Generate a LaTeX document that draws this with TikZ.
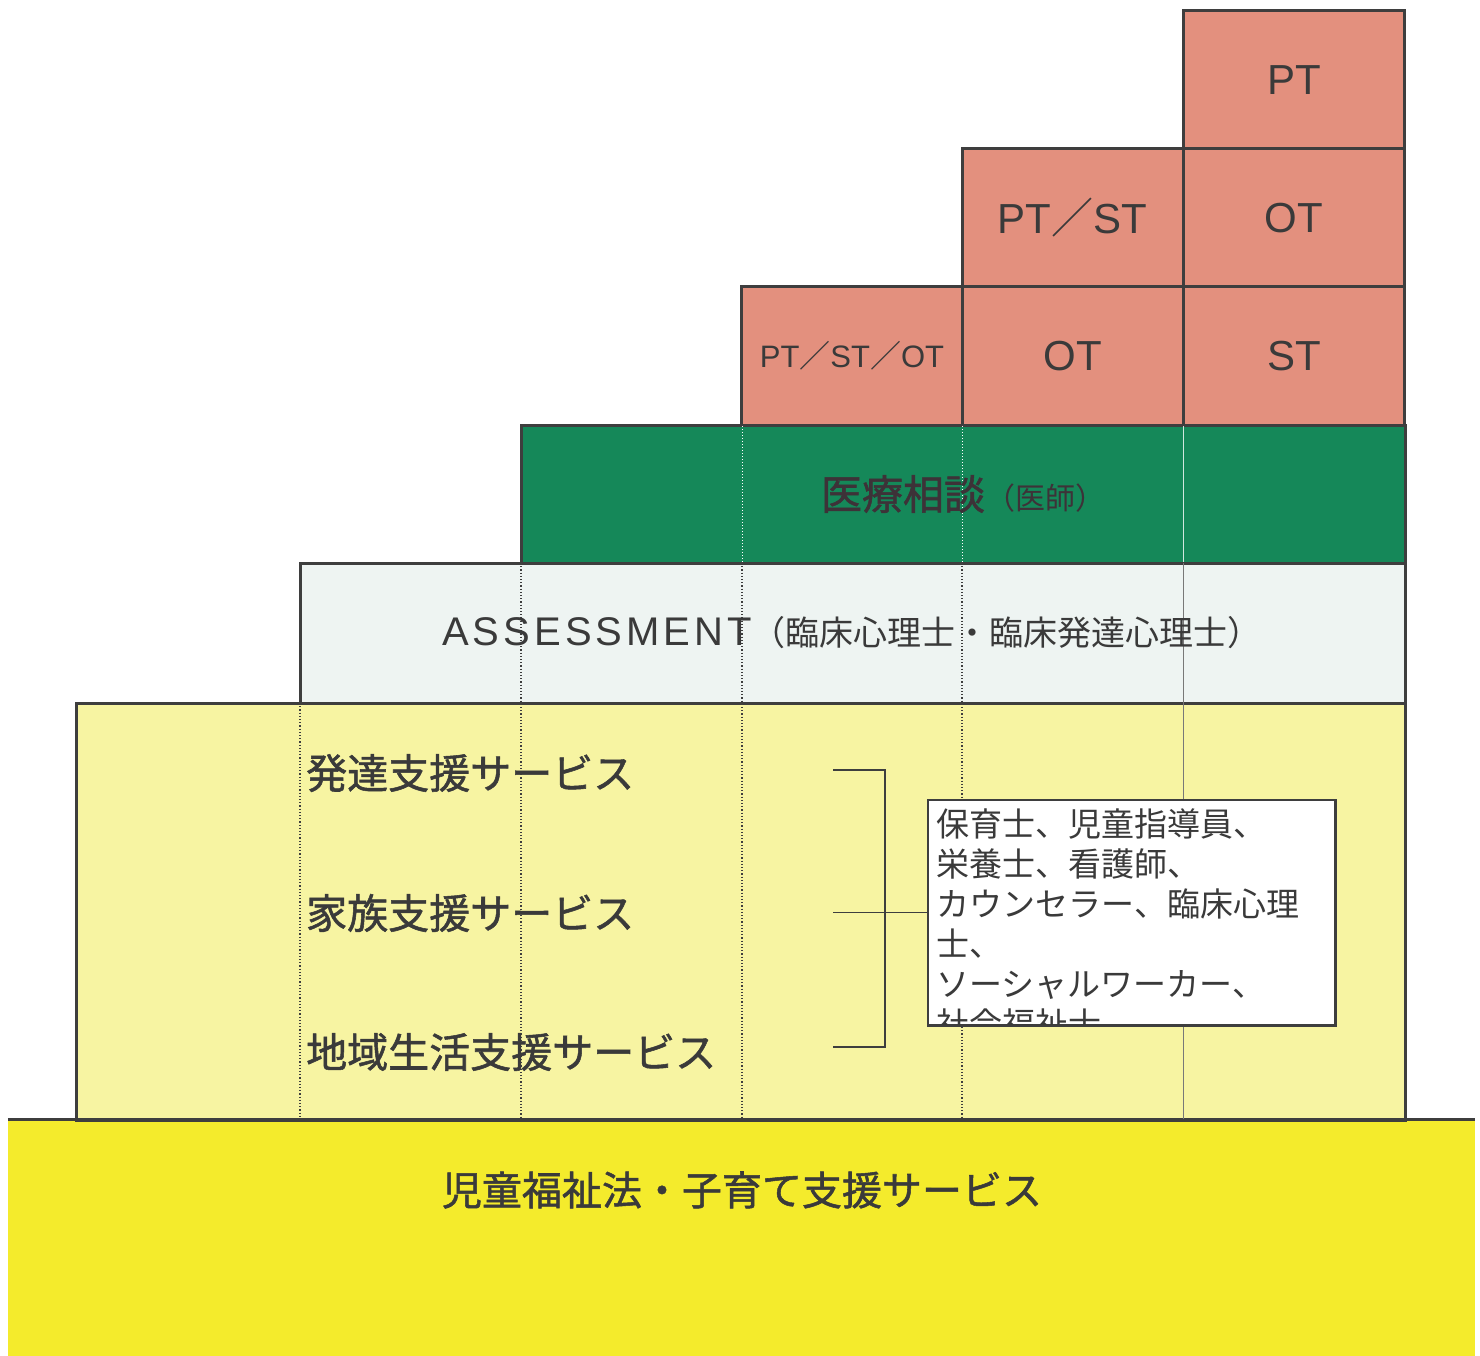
\documentclass[tikz,border=0pt]{standalone}
\usepackage{fontspec}
\setmainfont{Liberation Sans}
\newfontfamily\jp{Noto Sans CJK JP}
\newfontfamily\jpb{Noto Sans CJK JP}[FakeBold=1.3]
\definecolor{bordc}{HTML}{3E3E3E}
\definecolor{pinkc}{HTML}{E3907E}
\definecolor{greenc}{HTML}{158859}
\definecolor{assc}{HTML}{EEF4F2}
\definecolor{paleyel}{HTML}{F7F4A2}
\definecolor{baseyel}{HTML}{F4EB2C}
\definecolor{txtc}{HTML}{3A3A3A}
\definecolor{grtxt}{HTML}{3D3238}
\tikzset{
  frame/.style={draw=bordc, line width=3pt},
  pinkbox/.style={frame, fill=pinkc, minimum width=221pt, minimum height=138pt, inner sep=0pt, text=txtc, font=\fontsize{42}{46}\selectfont},
  blockbox/.style={frame, inner sep=0pt},
  jplabel/.style={anchor=west, inner sep=0pt, text=txtc, font=\jpb\fontsize{41}{46}\selectfont},
  dotline/.style={draw=bordc, line width=1.2pt, dotted},
  bracketline/.style={draw=bordc, line width=1.5pt},
}
\begin{document}
\begin{tikzpicture}[x=1pt,y=-1pt]
\fill[white] (0,0) rectangle (1480,1356);
\useasboundingbox (0,0) rectangle (1480,1356);
% base
\node[fill=baseyel, inner sep=0pt, minimum width=1467pt, minimum height=236pt] (base) at (741.5,1238) {};
% pale yellow block
\node[blockbox, fill=paleyel, minimum width=1329pt, minimum height=417pt] (svc) at (740.5,911.5) {};
% assessment block
\node[blockbox, fill=assc, minimum width=1105pt, minimum height=140pt] (ass) at (852.5,633) {};
% green block
\node[blockbox, fill=greenc, minimum width=884pt, minimum height=138pt] (med) at (963,494) {};
\draw[draw=bordc, line width=3pt] (base.north west) -- (base.north east);
% pink grid
\node[pinkbox] (p31) at (852,356) {\fontsize{31}{34}\selectfont PT{\jp ／}ST{\jp ／}OT};
\node[pinkbox] (p32) at (1072.5,356) {OT};
\node[pinkbox] (p33) at (1294,356) {ST};
\node[pinkbox] (p22) at (1072.5,218) {PT{\jp ／}ST};
\node[pinkbox] (p23) at (1294,218) {OT};
\node[pinkbox] (p13) at (1294,80) {PT};
% dotted column lines
\draw[dotline] (300,703) -- (300,1119);
\draw[dotline] (521,563) -- (521,1119);
\draw[dotline] (742,563) -- (742,1119);
\draw[dotline] (962,563) -- (962,1119);
\draw[draw=bordc!70, line width=0.8pt] (1183,563) -- (1183,1119);
\draw[white, line width=1pt, dotted] (742,426) -- (742,562);
\draw[white, line width=1pt, dotted] (962,426) -- (962,562);
\draw[white!80!greenc, line width=0.8pt] (1183,426) -- (1183,562);
% texts
\node[text=grtxt, inner sep=0pt, font=\jpb\fontsize{41}{46}\selectfont] (medt) at (963,494) {医療相談{\jp\fontsize{30}{34}\selectfont （医師）}};
\node[text=txtc, inner sep=0pt] (asst) at (852,633) {{\fontsize{40}{44}\selectfont\addfontfeatures{LetterSpace=10}ASSESSMENT}{\jp\fontsize{34}{40}\selectfont （臨床心理士・臨床発達心理士）}};
\node[jplabel] (s1) at (306,773) {発達支援サービス};
\node[jplabel] (s2) at (306,913) {家族支援サービス};
\node[jplabel] (s3) at (306,1052) {地域生活支援サービス};
\node[text=txtc, inner sep=0pt, font=\jpb\fontsize{40}{46}\selectfont] (baset) at (742,1190) {児童福祉法・子育て支援サービス};
% staff box
\node[draw=bordc, line width=1.5pt, fill=white, minimum width=407pt, minimum height=225pt, inner sep=0pt] (staff) at (1131.5,912.5) {};
\begin{scope}
\clip (staff.north west) rectangle (staff.south east);
\node[anchor=north west, align=left, inner sep=0pt, text=txtc, font=\jp\fontsize{33}{40}\selectfont] (stafft) at ([xshift=9pt,yshift=-9pt]staff.north west) {保育士、児童指導員、\\栄養士、看護師、\\カウンセラー、臨床心理\\士、\\ソーシャルワーカー、\\社会福祉士};
\end{scope}
\draw[draw=bordc, line width=1.5pt] (staff.north west) rectangle (staff.south east);
% bracket
\coordinate (b1) at (833,770);
\coordinate (b2) at (833,1047);
\coordinate (bm) at (833,912.5);
\draw[bracketline] (b1) -- (885,770) -- (885,1047) -- (b2);
\draw[bracketline] (bm) -- (staff.west);
\end{tikzpicture}
\end{document}
